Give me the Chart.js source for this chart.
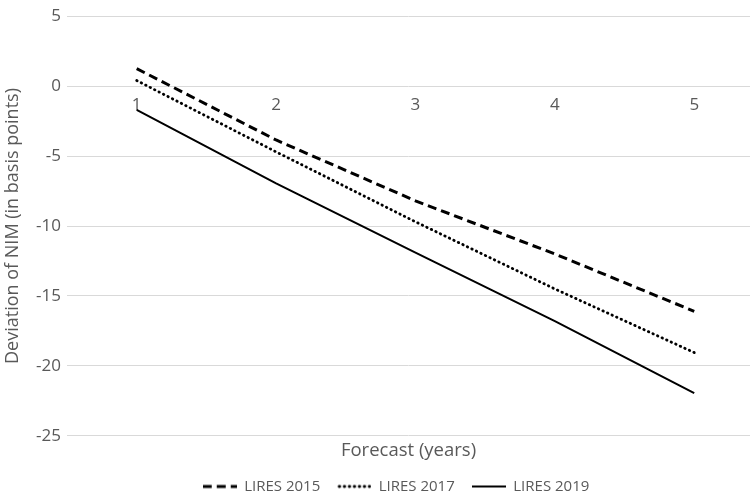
<!DOCTYPE html>
<html>
<head>
<meta charset="utf-8">
<script src="https://cdn.jsdelivr.net/npm/chart.js@4/dist/chart.umd.min.js"></script>
<style>
  html, body { margin: 0; padding: 0; background: #fff; }
  #wrap { width: 753px; height: 495px; }
</style>
</head>
<body>
<div id="wrap"><canvas id="nim-chart"></canvas></div>
<script>
// forecast horizon (years) and NIM deviation per scenario, in basis points
const years = [1, 2, 3, 4, 5];
const lires2015 = [1.25, -3.85, -8.2, -12.0, -16.1];
const lires2017 = [0.4, -4.7, -9.7, -14.5, -19.05];
const lires2019 = [-1.7, -6.95, -11.9, -16.8, -21.95];
const yTicks = [5, 0, -5, -10, -15, -20, -25];

const FONT = "'Open Sans', 'Liberation Sans', sans-serif";
const GREY = '#595959';

const pts = arr => arr.map((v, i) => ({ x: years[i], y: v }));

// small line samples for the legend (the built-in box ignores dashes)
function legendSample(width, dash, cap) {
  const c = document.createElement('canvas');
  c.width = 34; c.height = 6;
  const g = c.getContext('2d');
  g.strokeStyle = '#000';
  g.lineWidth = width;
  g.lineCap = cap || 'butt';
  g.setLineDash(dash);
  g.beginPath();
  g.moveTo(cap === 'round' ? 2 : 0, 3);
  g.lineTo(34, 3);
  g.stroke();
  return c;
}

// nudge the legend a bit right, like the original
const legendShift = {
  id: 'legendShift',
  afterLayout(chart) {
    if (chart.legend) { chart.legend.left += 21; chart.legend.right += 21; }
  }
};

new Chart(document.getElementById('nim-chart'), {
  type: 'line',
  data: {
    datasets: [
      { label: 'LIRES 2015', data: pts(lires2015), borderColor: '#000', backgroundColor: 'rgba(0,0,0,0)',
        borderWidth: 3, borderDash: [9, 5], borderCapStyle: 'butt',
        pointStyle: legendSample(3, [9, 5]) },
      { label: 'LIRES 2017', data: pts(lires2017), borderColor: '#000', backgroundColor: 'rgba(0,0,0,0)',
        borderWidth: 2.8, borderDash: [0.5, 4.5], borderCapStyle: 'round',
        pointStyle: legendSample(2.8, [0.5, 4.5], 'round') },
      { label: 'LIRES 2019', data: pts(lires2019), borderColor: '#000', backgroundColor: 'rgba(0,0,0,0)',
        borderWidth: 2,
        pointStyle: legendSample(2, []) }
    ]
  },
  plugins: [legendShift],
  options: {
    responsive: true,
    maintainAspectRatio: false,
    animation: false,
    layout: { padding: { top: 8, right: 3, left: 0, bottom: -9 } },
    elements: { point: { radius: 0 }, line: { tension: 0 } },
    plugins: {
      legend: {
        position: 'bottom',
        labels: {
          color: GREY, font: { family: FONT, size: 15 },
          usePointStyle: true, pointStyleWidth: 34,
          padding: 17
        }
      },
      tooltip: { enabled: false }
    },
    scales: {
      x: {
        type: 'linear', position: { y: 0 }, min: 0.5, max: 5.4,
        afterBuildTicks: s => { s.ticks = years.map(v => ({ value: v })); },
        grid: { display: false, drawTicks: false },
        border: { display: false },
        ticks: { color: GREY, font: { family: FONT, size: 17 }, padding: 9 }
      },
      xTitle: {
        type: 'linear', position: 'bottom', min: 0, max: 1,
        grid: { display: false, drawTicks: false }, border: { display: false },
        ticks: { display: false },
        title: { display: true, text: 'Forecast (years)', color: GREY,
                 font: { family: FONT, size: 18.5 }, padding: { top: 4, bottom: 0 } }
      },
      y: {
        min: -25, max: 5,
        afterBuildTicks: s => { s.ticks = yTicks.map(v => ({ value: v })); },
        afterFit: s => { s.width = 67; },
        grid: { color: '#d9d9d9', lineWidth: 1, drawTicks: false },
        border: { display: false },
        ticks: { color: GREY, font: { family: FONT, size: 17 }, padding: 6 },
        title: { display: true, text: 'Deviation of NIM (in basis points)', color: GREY,
                 font: { family: FONT, size: 18 }, padding: { top: 2, bottom: 0 } }
      }
    }
  }
});
</script>
</body>
</html>
